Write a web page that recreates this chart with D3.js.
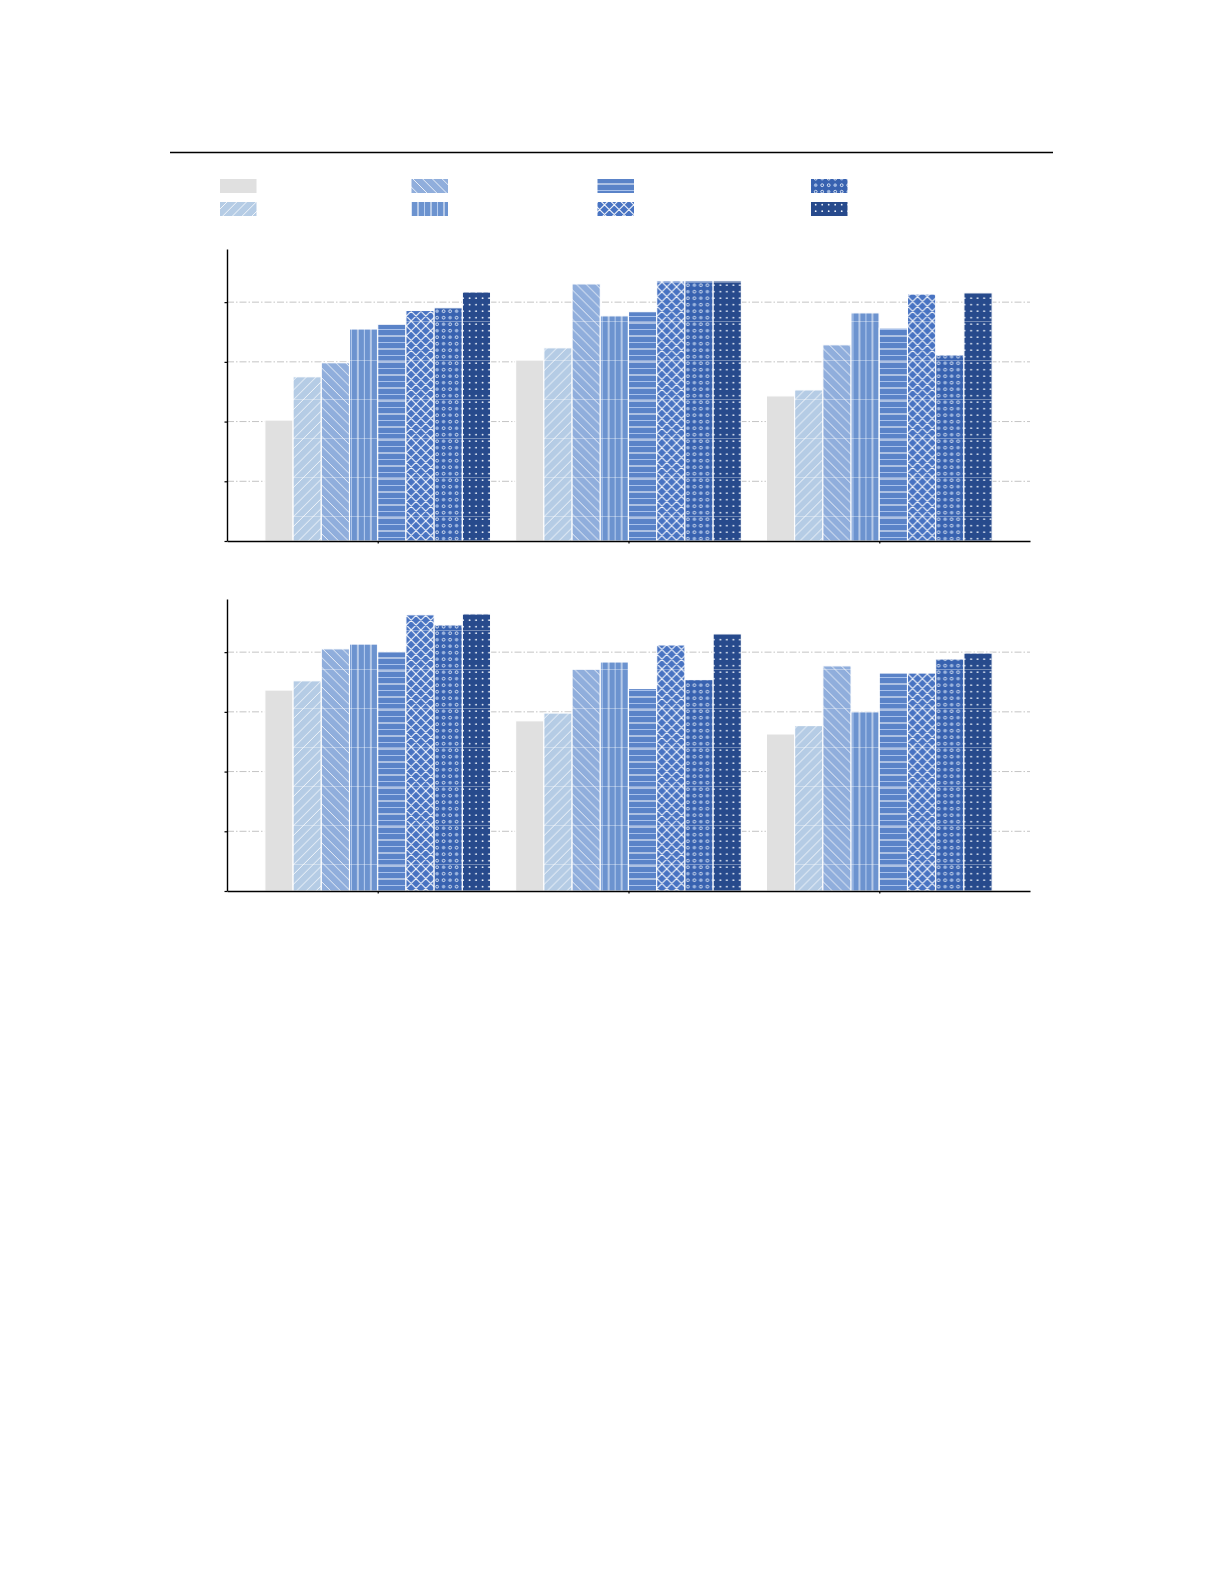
<!DOCTYPE html>
<html lang="en">
<head>
  <meta charset="UTF-8">
  <title>Grouped bars</title>
  <style>
    body{margin: 0; background: #fff;}
    svg{display: block;}
  </style>
</head>
<body>
  <div id="chart"></div>
  <script src="https://d3js.org/d3.v7.min.js"></script>
  <script>
  // DATA (no labels visible in the source)
  const groups = ["G1", "G2", "G3"];
  const series = ["S1", "S2", "S3", "S4", "S5", "S6", "S7", "S8"];
  const yTicks = [0, 20, 40, 60, 80];
  const yMax = 97.8;

  // top panel, one array per group, in series order
  const topG1 = [40.5, 55.0, 59.7, 71.0, 72.6, 77.2, 78.1, 83.4];
  const topG2 = [60.6, 64.7, 86.1, 75.4, 76.8, 87.1, 87.1, 87.1];
  const topG3 = [48.6, 50.6, 65.7, 76.4, 71.3, 82.7, 62.3, 83.1];
  // bottom panel
  const botG1 = [67.3, 70.4, 81.1, 82.7, 80.1, 92.5, 89.1, 92.8];
  const botG2 = [57.0, 59.6, 74.3, 76.7, 67.8, 82.4, 70.8, 86.1];
  const botG3 = [52.6, 55.4, 75.4, 60.0, 73.0, 73.0, 77.7, 79.7];

  // CONSTANTS
  const width = 1225;
  const height = 1585;
  const axisLeft = 227;
  const axisRight = 1030;
  const panels = [
    {id: "p1", top: 249, bottom: 541, rows: [topG1, topG2, topG3], tileY: 9},
    {id: "p2", top: 599, bottom: 891, rows: [botG1, botG2, botG3], tileY: 6}
  ];
  const colors = ["#e0e0e0", "#b5cce5", "#90aedc", "#6c93cf", "#5a83c8", "#4873c2", "#3862b0", "#274a8c"];
  const kinds = ["solid", "up", "down", "vert", "horiz", "cross", "ring", "dot"];
  const T = 39; // pattern tile

  const svg = d3.select("#chart").append("svg")
    .attr("width", width)
    .attr("height", height)
    .attr("viewBox", [0, 0, width, height]);

  const defs = svg.append("defs");

  // PATTERNS
  function makePattern(id, kind, color, tileY) {
    const p = defs.append("pattern")
      .attr("id", id)
      .attr("patternUnits", "userSpaceOnUse")
      .attr("x", 0)
      .attr("y", tileY)
      .attr("width", T)
      .attr("height", T);
    p.append("rect").attr("width", T).attr("height", T).attr("fill", color);
    const w = "#ffffff";
    let d = "";
    if (kind === "up" || kind === "cross") {
      const s = T / 4;
      for (let k = -4; k <= 8; k++) d += `M${k * s - T},${T}L${k * s},0`;
    }
    if (kind === "down" || kind === "cross") {
      const s = T / 4;
      for (let k = -4; k <= 8; k++) d += `M${k * s - T},0L${k * s},${T}`;
    }
    if (d) {
      p.append("path").attr("d", d).attr("stroke", w)
        .attr("stroke-opacity", 0.9)
        .attr("stroke-width", kind === "cross" ? 1.1 : 0.9).attr("fill", "none");
    }
    if (kind === "vert") {
      for (let i = 0; i < 6; i++) {
        p.append("line").attr("x1", i * 6.5 + 2).attr("x2", i * 6.5 + 2).attr("y1", 0).attr("y2", T)
          .attr("stroke", i % 2 ? "#b9cff0" : w).attr("stroke-width", 1);
      }
    }
    if (kind === "horiz") {
      for (let i = 0; i < 6; i++) {
        p.append("line").attr("y1", i * 6.5 + 2).attr("y2", i * 6.5 + 2).attr("x1", 0).attr("x2", T)
          .attr("stroke", i % 2 ? "#a9c2ec" : w).attr("stroke-width", 1.1);
      }
    }
    if (kind === "ring") {
      for (let r = 0; r < 6; r++) {
        for (let c = 0; c < 6; c++) {
          const soft = (r + c) % 3 === 0;
          p.append("circle").attr("cx", c * 6.5 + 3.2).attr("cy", r * 6.5 + 3.2).attr("r", 1.4)
            .attr("fill", soft ? "#9db6df" : "none")
            .attr("stroke", soft ? "#9db6df" : "#eef4fc").attr("stroke-width", 0.85);
        }
      }
    }
    if (kind === "dot") {
      for (let r = 0; r < 6; r++) {
        for (let c = 0; c < 6; c++) {
          p.append("circle").attr("cx", c * 6.5 + 3.2).attr("cy", r * 6.5 + 3.2).attr("r", 0.9).attr("fill", "#eef3fb");
        }
      }
    }
    // faint tile seam seen across the filled bars
    p.append("line").attr("x1", 0).attr("x2", T).attr("y1", 0.5).attr("y2", 0.5)
      .attr("stroke", "#ffffff").attr("stroke-opacity", 0.35).attr("stroke-width", 1);
  }

  function fillFor(prefix, i) {
    return kinds[i] === "solid" ? colors[i] : `url(#${prefix}-${kinds[i]})`;
  }

  panels.forEach(pn => kinds.forEach((k, i) => { if (k !== "solid") makePattern(`${pn.id}-${k}`, k, colors[i], pn.tileY); }));
  kinds.forEach((k, i) => { if (k !== "solid") makePattern(`lg-${k}`, k, colors[i], 0); });

  // TOP RULE
  svg.append("line")
    .attr("x1", 170).attr("x2", 1053)
    .attr("y1", 152.5).attr("y2", 152.5)
    .attr("stroke", "#000").attr("stroke-width", 1.6);

  // LEGEND (labels are blank in the source)
  const legendX = [220, 411.5, 597.5, 811];
  const legendY = [179, 202];
  const legend = svg.append("g");
  series.forEach((s, i) => {
    legend.append("rect")
      .attr("x", legendX[Math.floor(i / 2)])
      .attr("y", legendY[i % 2])
      .attr("width", 36.5)
      .attr("height", 14)
      .attr("fill", fillFor("lg", i));
  });

  // SCALES
  const x0 = d3.scaleBand()
    .domain(groups)
    .range([axisLeft, axisRight])
    .paddingInner(0.1)
    .paddingOuter(0.151);
  const x1 = d3.scaleBand()
    .domain(series)
    .range([0, x0.bandwidth()]);

  panels.forEach(pn => {
    const y = d3.scaleLinear().domain([0, yMax]).range([pn.bottom, pn.top]);
    const g = svg.append("g");

    // GRID
    g.append("g")
      .selectAll("line")
      .data(yTicks.filter(t => t > 0))
      .join("line")
      .attr("x1", axisLeft).attr("x2", axisRight)
      .attr("y1", d => y(d)).attr("y2", d => y(d))
      .attr("stroke", "#c4c4c4")
      .attr("stroke-width", 1)
      .attr("stroke-dasharray", "7,2,1.5,2");

    // BARS
    g.append("g")
      .selectAll("g")
      .data(pn.rows.map((vals, gi) => ({group: groups[gi], vals})))
      .join("g")
      .attr("transform", d => `translate(${x0(d.group)},0)`)
      .selectAll("rect")
      .data(d => d.vals.map((v, i) => ({s: series[i], i, v})))
      .join("rect")
      .attr("x", d => x1(d.s))
      .attr("y", d => y(d.v))
      .attr("width", x1.bandwidth())
      .attr("height", d => y(0) - y(d.v))
      .attr("fill", d => fillFor(pn.id, d.i))
      .attr("stroke", "#fff")
      .attr("stroke-width", 1.1);

    // AXES
    const yAxis = g.append("g")
      .attr("transform", `translate(${axisLeft},0)`)
      .call(d3.axisLeft(y).tickValues(yTicks).tickSize(2.5).tickSizeOuter(0).tickFormat(""));
    const xAxis = g.append("g")
      .attr("transform", `translate(0,${pn.bottom})`)
      .call(d3.axisBottom(d3.scaleLinear().domain([axisLeft, axisRight]).range([axisLeft, axisRight]))
        .tickValues(groups.map(k => x0(k) + x0.bandwidth() / 2))
        .tickSize(2.5).tickSizeOuter(0).tickFormat(""));
    [yAxis, xAxis].forEach(a => {
      a.selectAll("text").remove();
      a.select(".domain").attr("stroke", "#000").attr("stroke-width", 1.4);
      a.selectAll(".tick line").attr("stroke", "#000").attr("stroke-width", 1.2);
    });
  });
  </script>
</body>
</html>
